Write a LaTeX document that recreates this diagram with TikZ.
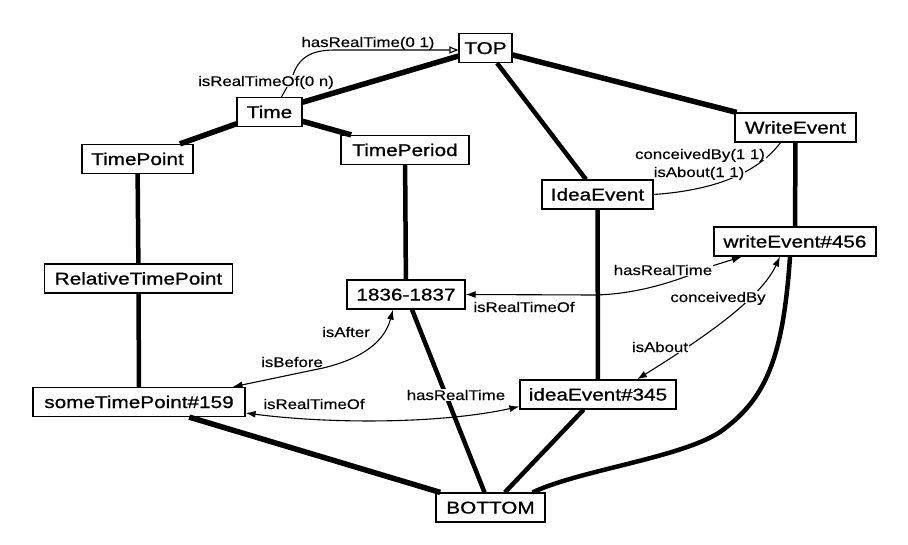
\documentclass[tikz,border=0pt]{standalone}
\usepackage{fontspec}
\newfontfamily\nodefont[FakeStretch=1.22,FakeBold=0.9]{Liberation Sans}
\newfontfamily\lblfont[FakeStretch=1.2,FakeBold=0.3]{Liberation Sans}
\usetikzlibrary{arrows.meta}
\begin{document}
\begin{tikzpicture}[x=1pt,y=-1pt,
  >={Latex[length=10pt,width=7pt]},
  box/.style={draw,line width=1.2pt,fill=white,font=\nodefont\fontsize{17}{20}\selectfont,
    minimum height=29pt,inner sep=0pt,text height=12pt,text depth=0pt},
  lbl/.style={font=\lblfont\fontsize{14}{16}\selectfont,inner sep=0.6pt,text height=10pt,text depth=0pt},
  lblw/.style={lbl,fill=white},
  link/.style={line width=4.5pt},
  heavy/.style={line width=5.5pt},
  rel/.style={line width=1.1pt}]
\useasboundingbox (0,0) rectangle (908,544);
% nodes
\node[box,minimum width=53pt] (top) at (485.5,48) {TOP};
\node[box,minimum width=65pt] (time) at (269.5,112) {Time};
\node[box,minimum width=111pt] (tpoint) at (137.5,159) {TimePoint};
\node[box,minimum width=128pt] (tperiod) at (405,150) {TimePeriod};
\node[box,minimum width=111pt] (ideaC) at (597.5,194.5) {IdeaEvent};
\node[box,minimum width=121pt] (writeC) at (795.5,127.5) {WriteEvent};
\node[box,minimum width=162pt] (we) at (795,241.5) {writeEvent\#456};
\node[box,minimum width=188pt] (rtp) at (138.5,278.5) {RelativeTimePoint};
\node[box,minimum width=118pt] (yr) at (406,294.5) {1836-1837};
\node[box,minimum width=212pt] (stp) at (139,402) {someTimePoint\#159};
\node[box,minimum width=156pt] (ie) at (598,394.5) {ideaEvent\#345};
\node[box,minimum width=109pt] (bot) at (490.5,507.5) {BOTTOM};
% hierarchy links
\draw[heavy] (top) -- (time);
\draw[heavy] (top) -- (writeC);
\draw[link] (top) -- (ideaC);
\draw[heavy] (time) -- (tpoint);
\draw[heavy] (time) -- (tperiod);
\draw[link] (tpoint) -- (rtp);
\draw[link] (rtp) -- (stp);
\draw[link] (tperiod) -- (yr);
\draw[link] (ideaC) -- (ie);
\draw[link] (writeC) -- (we);
\draw[heavy] (stp) -- (bot);
\draw[link] (yr) -- (bot);
\draw[link] (ie) -- (bot);
\draw[link] ([xshift=-5pt]we.south) .. controls (783,360) and (765,400) .. (720,432)
  .. controls (680,458) and (580,470) .. ([xshift=42pt]bot.north);
% relations
\draw[rel,-{Triangle[open,length=9pt,width=7pt]}] ([xshift=12pt]time.north) -- (292,78)
  .. controls (298,58) and (310,50) .. (335,50) -- ([yshift=-2pt]top.west);
\draw[rel] (ideaC.east) .. controls (720,190) and (760,170) .. ([xshift=-15pt]writeC.south);
\draw[rel,<->] (yr.east) -- (595,295) .. controls (640,294) and (680,280) .. (712,266)
  -- ([xshift=-53pt]we.south);
\draw[rel,<->] ([xshift=39pt]ie.north) .. controls (700,340) and (760,300) .. ([xshift=-15pt]we.south);
\draw[rel,<->] ([xshift=-13pt]yr.south) .. controls (385,340) and (365,358) .. (323,368)
  -- ([xshift=-13pt]stp.north east);
\draw[rel,<->] ([yshift=-11pt]stp.east) .. controls (330,424) and (440,424) .. ([yshift=-12pt]ie.west);
% labels
\node[lbl] (l1) at (368,42) {hasRealTime(0 1)};
\node[lblw] (l2) at (266,81) {isRealTimeOf(0 n)};
\node[lblw] (l3) at (700,154) {conceivedBy(1 1)};
\node[lblw] (l4) at (699,172) {isAbout(1 1)};
\node[lblw] (l5) at (663,270) {hasRealTime};
\node[lbl] (l6) at (524,307) {isRealTimeOf};
\node[lblw] (l7) at (718,297) {conceivedBy};
\node[lblw] (l8) at (660,347) {isAbout};
\node[lbl] (l9) at (346,332) {isAfter};
\node[lbl] (l10) at (292,362) {isBefore};
\node[lbl] (l11) at (314,404) {isRealTimeOf};
\node[lblw] (l12) at (456,395) {hasRealTime};
\end{tikzpicture}
\end{document}
